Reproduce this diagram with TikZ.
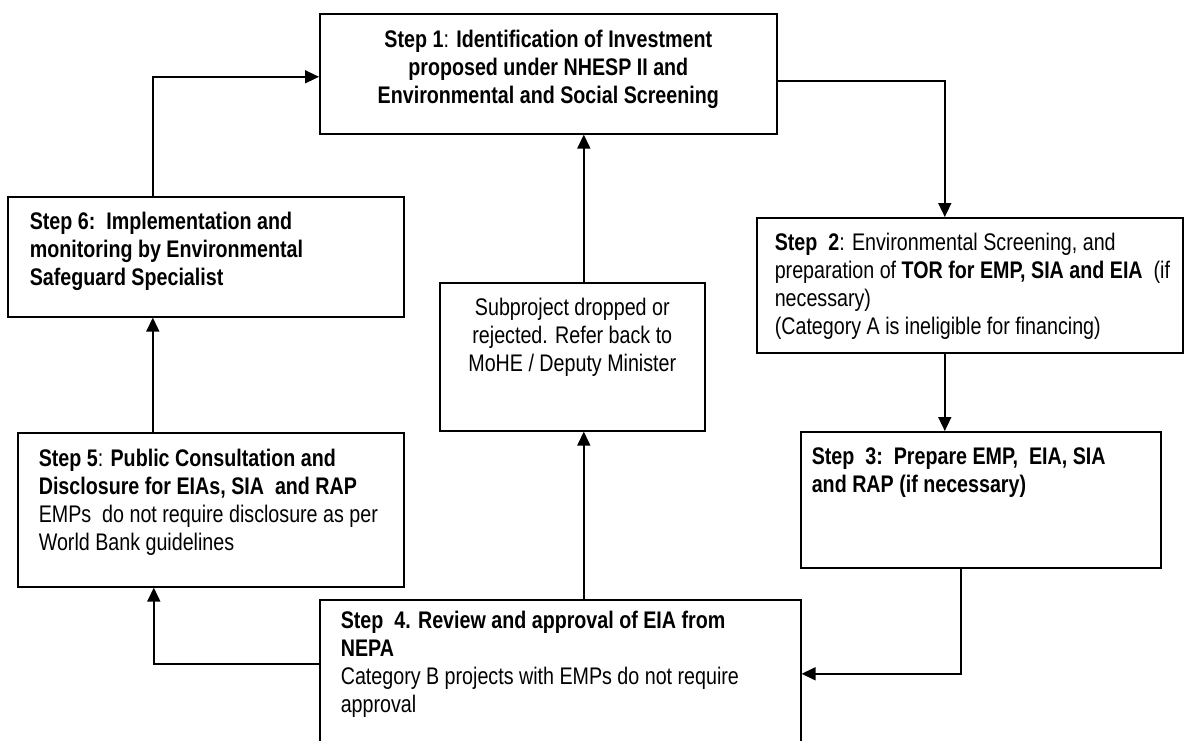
\documentclass[tikz,border=0pt]{standalone}
\usepackage{fontspec}
\setmainfont{Liberation Sans}[FakeStretch=0.82]
\usetikzlibrary{arrows.meta}

\begin{document}
\begin{tikzpicture}[x=1pt, y=-1pt,
    box/.style={draw, line width=1.6pt, anchor=north west, inner sep=0pt,
      align=flush left, font=\fontsize{24}{28}\selectfont},
    flow/.style={line width=1.6pt, -{Triangle[length=14pt,width=13pt]}}]
  \useasboundingbox (0,0) rectangle (1184,740);
  \node[box, align=flush center, text width=457pt, text height=33.5pt, text depth=86.5pt] (s1) at (319,13)
    {\textbf{Step 1}: \textbf{Identification of Investment}\\
     \textbf{proposed under NHESP II and}\\
     \textbf{Environmental and Social Screening}\par};
  \node[box, text width=396pt, text height=33pt, text depth=87pt] (s6) at (7,196)
    {\leftskip=22pt \textbf{Step 6:\ \ Implementation and}\\
     \textbf{monitoring by Environmental}\\
     \textbf{Safeguard Specialist}\par};
  \node[box, align=flush center, text width=265pt, text height=33pt, text depth=115pt] (sub) at (439,282)
    {Subproject dropped or\\
     rejected. Refer back to\\
     MoHE / Deputy Minister\par};
  \node[box, text width=426pt, text height=33pt, text depth=102pt] (s2) at (756,217)
    {\leftskip=18pt \textbf{Step\ \ 2}: Environmental Screening, and\\
     \mbox{preparation of \textbf{TOR for EMP, SIA and EIA}\ \ (if}\\
     necessary)\\
     (Category A is ineligible for financing)\par};
  \node[box, text width=360pt, text height=33pt, text depth=103pt] (s3) at (800,431)
    {\leftskip=11pt \textbf{Step\ \ 3:\ \ Prepare EMP,\ \ EIA, SIA}\\
     \textbf{and RAP (if necessary)}\par};
  \node[box, text width=481pt, text height=29pt, text depth=119pt] (s4) at (319,599)
    {\leftskip=21pt \textbf{Step\ \ 4. Review and approval of EIA from}\\
     \textbf{NEPA}\\
     Category B projects with EMPs do not require\\
     approval\par};
  \node[box, text width=386pt, text height=34pt, text depth=120pt] (s5) at (17,432)
    {\leftskip=21pt \textbf{Step 5}: \textbf{Public Consultation and}\\
     \textbf{Disclosure for EIAs, SIA\ \ and RAP}\\
     EMPs\ \ do not require disclosure as per\\
     World Bank guidelines\par};
  \begin{scope}[flow]
    \draw ([xshift=-53pt]s6.north) |- ([yshift=-3pt]s1.west);
    \draw ([yshift=-7pt]s1.east) -| ([xshift=-25pt]s2.north);
    \draw ([xshift=-25pt]s2.south) -- ([xshift=-25pt]s2.south |- s3.north);
    \draw ([xshift=-20pt]s3.south) |- (s4.east);
    \draw ([xshift=23.5pt]s4.north) -- ([xshift=23.5pt]s4.north |- sub.south);
    \draw ([xshift=11.5pt]sub.north) -- ([xshift=11.5pt]sub.north |- s1.south);
    \draw ([yshift=10pt]s4.west) -| ([xshift=-57pt]s5.south);
    \draw ([xshift=-58pt]s5.north) -- ([xshift=-58pt]s5.north |- s6.south);
  \end{scope}
\end{tikzpicture}
\end{document}
